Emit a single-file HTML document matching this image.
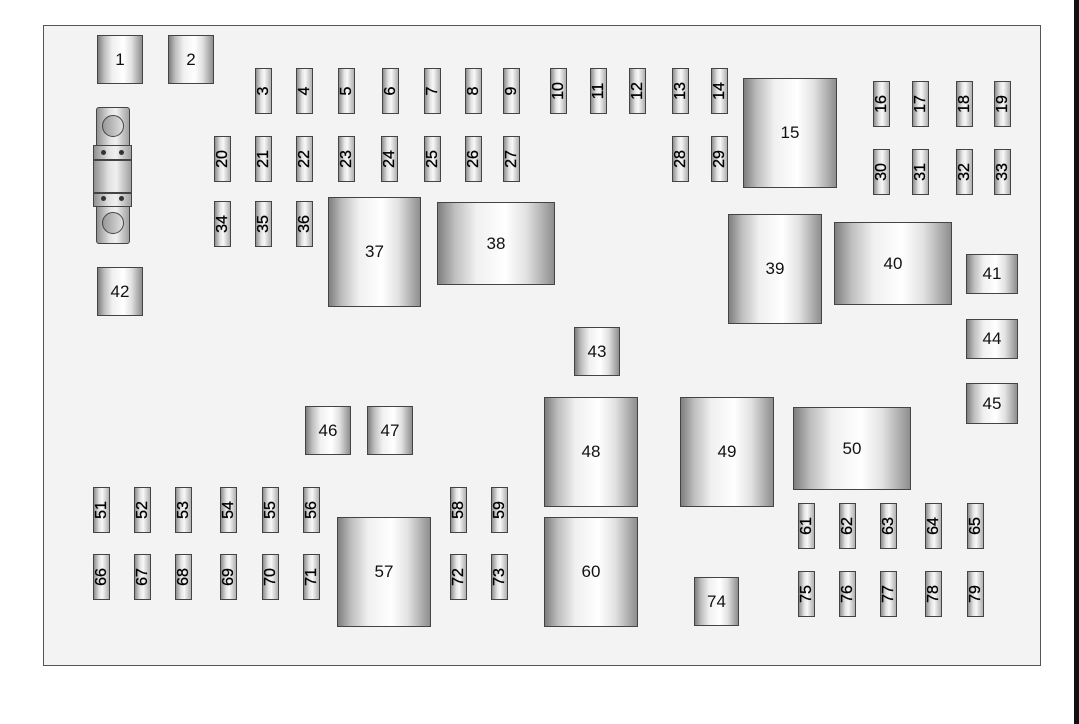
<!DOCTYPE html>
<html><head><meta charset="utf-8">
<style>
html,body{margin:0;padding:0;background:#fff;}
body{width:1079px;height:724px;position:relative;overflow:hidden;font-family:"Liberation Sans",sans-serif;}
#frame{position:absolute;left:43px;top:25px;width:996px;height:639px;border:1.5px solid #555;background:#f3f3f3;}
#bar{position:absolute;left:1074px;top:0;width:5px;height:724px;background:#111;}
.b{position:absolute;box-sizing:border-box;border:1.5px solid #444;background:linear-gradient(90deg,#7e7e7e 0%,#bdbdbd 14%,#f0f0f0 33%,#ffffff 58%,#e2e2e2 76%,#8e8e8e 100%);display:flex;align-items:center;justify-content:center;font-size:17px;color:#111;}
.s{position:absolute;box-sizing:border-box;width:17px;height:46px;border:1.5px solid #444;background:linear-gradient(90deg,#8e8e8e 0%,#e4e4e4 35%,#f8f8f8 55%,#b0b0b0 100%);}
.s span{position:absolute;left:50%;top:50%;transform:translate(-50%,-50%) rotate(-90deg);font-size:16px;color:#000;white-space:nowrap;-webkit-text-stroke:0.3px #000;}
.p{position:absolute;box-sizing:border-box;border:1.5px solid #444;background:linear-gradient(90deg,#909090,#e2e2e2 40%,#f0f0f0 60%,#a0a0a0);}
.h{position:absolute;width:22px;height:22px;border:1.5px solid #444;border-radius:50%;background:linear-gradient(90deg,#999,#e0e0e0);box-sizing:border-box;}
.d{position:absolute;width:5px;height:5px;border-radius:50%;background:#333;}
</style></head><body>
<div id="frame"></div>
<div id="bar"></div>

<div class="p" style="left:96px;top:107px;width:34px;height:43px;border-radius:3px 3px 0 0"></div>
<div class="p" style="left:96px;top:201px;width:34px;height:43px;border-radius:0 0 3px 3px"></div>
<div class="p" style="left:93px;top:145px;width:39px;height:62px"></div>
<div style="position:absolute;left:93px;top:159px;width:39px;height:1.5px;background:#444"></div>
<div style="position:absolute;left:93px;top:192px;width:39px;height:1.5px;background:#444"></div>
<div class="h" style="left:102px;top:115px"></div>
<div class="h" style="left:102px;top:212px"></div>
<div class="d" style="left:101px;top:150px"></div><div class="d" style="left:119px;top:150px"></div>
<div class="d" style="left:101px;top:196px"></div><div class="d" style="left:119px;top:196px"></div>

<div class="b" style="left:97px;top:35px;width:46px;height:49px">1</div>
<div class="b" style="left:168px;top:35px;width:46px;height:49px">2</div>
<div class="b" style="left:97px;top:267px;width:46px;height:49px">42</div>
<div class="b" style="left:743px;top:78px;width:94px;height:110px">15</div>
<div class="b" style="left:328px;top:197px;width:93px;height:110px">37</div>
<div class="b" style="left:437px;top:202px;width:118px;height:83px">38</div>
<div class="b" style="left:728px;top:214px;width:94px;height:110px">39</div>
<div class="b" style="left:834px;top:222px;width:118px;height:83px">40</div>
<div class="b" style="left:966px;top:254px;width:52px;height:40px">41</div>
<div class="b" style="left:966px;top:319px;width:52px;height:40px">44</div>
<div class="b" style="left:966px;top:383px;width:52px;height:41px">45</div>
<div class="b" style="left:574px;top:327px;width:46px;height:49px">43</div>
<div class="b" style="left:305px;top:406px;width:46px;height:49px">46</div>
<div class="b" style="left:367px;top:406px;width:46px;height:49px">47</div>
<div class="b" style="left:544px;top:397px;width:94px;height:110px">48</div>
<div class="b" style="left:680px;top:397px;width:94px;height:110px">49</div>
<div class="b" style="left:793px;top:407px;width:118px;height:83px">50</div>
<div class="b" style="left:337px;top:517px;width:94px;height:110px">57</div>
<div class="b" style="left:544px;top:517px;width:94px;height:110px">60</div>
<div class="b" style="left:694px;top:577px;width:45px;height:49px">74</div>

<div class="s" style="left:255px;top:68px"><span>3</span></div>
<div class="s" style="left:296px;top:68px"><span>4</span></div>
<div class="s" style="left:338px;top:68px"><span>5</span></div>
<div class="s" style="left:382px;top:68px"><span>6</span></div>
<div class="s" style="left:424px;top:68px"><span>7</span></div>
<div class="s" style="left:465px;top:68px"><span>8</span></div>
<div class="s" style="left:503px;top:68px"><span>9</span></div>
<div class="s" style="left:550px;top:68px"><span>10</span></div>
<div class="s" style="left:590px;top:68px"><span>11</span></div>
<div class="s" style="left:629px;top:68px"><span>12</span></div>
<div class="s" style="left:672px;top:68px"><span>13</span></div>
<div class="s" style="left:711px;top:68px"><span>14</span></div>
<div class="s" style="left:214px;top:136px"><span>20</span></div>
<div class="s" style="left:255px;top:136px"><span>21</span></div>
<div class="s" style="left:296px;top:136px"><span>22</span></div>
<div class="s" style="left:338px;top:136px"><span>23</span></div>
<div class="s" style="left:381px;top:136px"><span>24</span></div>
<div class="s" style="left:424px;top:136px"><span>25</span></div>
<div class="s" style="left:465px;top:136px"><span>26</span></div>
<div class="s" style="left:503px;top:136px"><span>27</span></div>
<div class="s" style="left:672px;top:136px"><span>28</span></div>
<div class="s" style="left:711px;top:136px"><span>29</span></div>
<div class="s" style="left:214px;top:201px"><span>34</span></div>
<div class="s" style="left:255px;top:201px"><span>35</span></div>
<div class="s" style="left:296px;top:201px"><span>36</span></div>
<div class="s" style="left:873px;top:81px"><span>16</span></div>
<div class="s" style="left:912px;top:81px"><span>17</span></div>
<div class="s" style="left:956px;top:81px"><span>18</span></div>
<div class="s" style="left:994px;top:81px"><span>19</span></div>
<div class="s" style="left:873px;top:149px"><span>30</span></div>
<div class="s" style="left:912px;top:149px"><span>31</span></div>
<div class="s" style="left:956px;top:149px"><span>32</span></div>
<div class="s" style="left:994px;top:149px"><span>33</span></div>
<div class="s" style="left:93px;top:487px"><span>51</span></div>
<div class="s" style="left:134px;top:487px"><span>52</span></div>
<div class="s" style="left:175px;top:487px"><span>53</span></div>
<div class="s" style="left:220px;top:487px"><span>54</span></div>
<div class="s" style="left:262px;top:487px"><span>55</span></div>
<div class="s" style="left:303px;top:487px"><span>56</span></div>
<div class="s" style="left:93px;top:554px"><span>66</span></div>
<div class="s" style="left:134px;top:554px"><span>67</span></div>
<div class="s" style="left:175px;top:554px"><span>68</span></div>
<div class="s" style="left:220px;top:554px"><span>69</span></div>
<div class="s" style="left:262px;top:554px"><span>70</span></div>
<div class="s" style="left:303px;top:554px"><span>71</span></div>
<div class="s" style="left:450px;top:487px"><span>58</span></div>
<div class="s" style="left:491px;top:487px"><span>59</span></div>
<div class="s" style="left:450px;top:554px"><span>72</span></div>
<div class="s" style="left:491px;top:554px"><span>73</span></div>
<div class="s" style="left:798px;top:503px"><span>61</span></div>
<div class="s" style="left:839px;top:503px"><span>62</span></div>
<div class="s" style="left:880px;top:503px"><span>63</span></div>
<div class="s" style="left:925px;top:503px"><span>64</span></div>
<div class="s" style="left:967px;top:503px"><span>65</span></div>
<div class="s" style="left:798px;top:571px"><span>75</span></div>
<div class="s" style="left:839px;top:571px"><span>76</span></div>
<div class="s" style="left:880px;top:571px"><span>77</span></div>
<div class="s" style="left:925px;top:571px"><span>78</span></div>
<div class="s" style="left:967px;top:571px"><span>79</span></div>
</body></html>
